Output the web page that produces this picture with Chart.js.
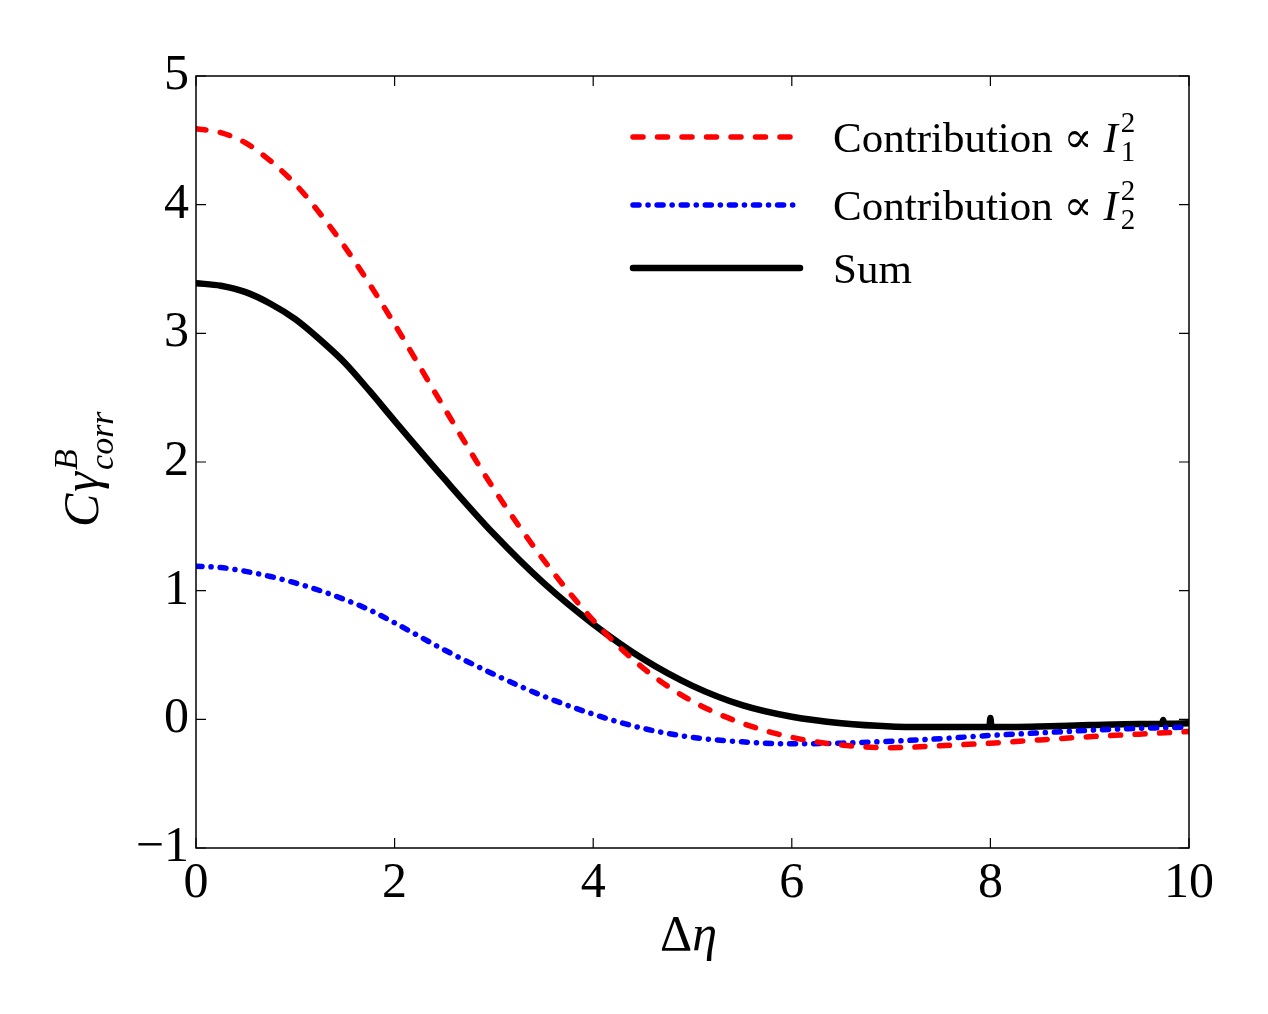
<!doctype html>
<html lang="en">
<head>
<meta charset="utf-8">
<title>C gamma corr B</title>
<script src="https://cdn.jsdelivr.net/npm/chart.js@4.4.0/dist/chart.umd.min.js"></script>
<style>
  html, body { margin: 0; padding: 0; background: #fff; }
  #wrap { width: 1268px; height: 1014px; }
</style>
</head>
<body>
<div id="wrap"><canvas id="chart" width="1268" height="1014"></canvas></div>
<script>
// values
var eta = [0, 0.25, 0.5, 0.75, 1, 1.25, 1.5, 1.75, 2, 2.5, 3, 3.5, 4, 4.5, 5, 5.5, 6, 6.5, 7, 7.5, 8, 8.5, 9, 9.5, 10];
var contribI1 = [4.59, 4.56, 4.48, 4.34, 4.16, 3.93, 3.67, 3.38, 3.07, 2.42, 1.79, 1.24, 0.77, 0.40, 0.14, -0.03, -0.14, -0.20, -0.22, -0.205, -0.185, -0.16, -0.135, -0.115, -0.095];
var contribI2 = [1.19, 1.18, 1.15, 1.11, 1.06, 1.00, 0.93, 0.85, 0.75, 0.54, 0.35, 0.18, 0.04, -0.07, -0.14, -0.175, -0.19, -0.185, -0.17, -0.15, -0.125, -0.105, -0.085, -0.07, -0.06];
// the sum has two small spikes (near 8 and 9.74)
var sumEta = [0, 0.25, 0.5, 0.75, 1, 1.25, 1.5, 1.75, 2, 2.5, 3, 3.5, 4, 4.5, 5, 5.5, 6, 6.5, 7, 7.5, 7.99, 8, 8.01, 8.5, 9, 9.5, 9.73, 9.74, 9.75, 10];
var sumVals = [3.39, 3.37, 3.32, 3.23, 3.11, 2.95, 2.77, 2.55, 2.32, 1.87, 1.44, 1.06, 0.74, 0.47, 0.26, 0.11, 0.02, -0.03, -0.055, -0.06, -0.06, 0.01, -0.06, -0.055, -0.045, -0.037, -0.034, -0.005, -0.034, -0.03];

var legendMain = ['Contribution \u221d ', 'Contribution \u221d ', 'Sum'];
var legendVar = ['I', 'I', ''];
var legendSub = ['1', '2', ''];
var legendSup = ['2', '2', ''];

var FONT = '"Liberation Serif", "DejaVu Serif", serif';

function pts(xs, ys) {
    return xs.map(function (x, i) { return { x: x, y: ys[i] }; });
}

// writes pieces of text one after another; keep:true means don't advance
function runText(ctx, x, y, pieces) {
    pieces.forEach(function (p) {
        ctx.font = p.font;
        ctx.fillText(p.t, x, y + (p.dy || 0));
        if (!p.keep) x += ctx.measureText(p.t).width + (p.gap || 0);
    });
    return x;
}

var decor = {
    id: 'decor',
    afterDraw: function (chart) {
        var ctx = chart.ctx, a = chart.chartArea;
        var xs = chart.scales.x, ys = chart.scales.y;
        var tl = 10;
        ctx.save();
        ctx.strokeStyle = '#000';
        ctx.lineWidth = 1.5;
        ctx.strokeRect(a.left, a.top, a.right - a.left, a.bottom - a.top);
        ctx.lineWidth = 1.2;
        ctx.beginPath();
        xs.ticks.forEach(function (t) {
            var px = xs.getPixelForValue(t.value);
            ctx.moveTo(px, a.bottom); ctx.lineTo(px, a.bottom - tl);
            ctx.moveTo(px, a.top); ctx.lineTo(px, a.top + tl);
        });
        ys.ticks.forEach(function (t) {
            var py = ys.getPixelForValue(t.value);
            ctx.moveTo(a.left, py); ctx.lineTo(a.left + tl, py);
            ctx.moveTo(a.right, py); ctx.lineTo(a.right - tl, py);
        });
        ctx.stroke();

        ctx.fillStyle = '#000';
        ctx.textBaseline = 'alphabetic';
        ctx.textAlign = 'left';

        // x title
        runText(ctx, 660, 950, [
            { t: '\u0394', font: '50px ' + FONT },
            { t: '\u03b7', font: 'italic 50px ' + FONT }
        ]);

        // y title, rotated
        ctx.save();
        ctx.translate(98, 527);
        ctx.rotate(-Math.PI / 2);
        runText(ctx, 0, 0, [
            { t: 'C', font: 'italic 50px ' + FONT, gap: 2 },
            { t: '\u03b3', font: 'italic 50px ' + FONT, gap: 2 },
            { t: 'B', font: 'italic 34px ' + FONT, dy: -21, keep: true },
            { t: 'corr', font: 'italic 34px ' + FONT, dy: 15 }
        ]);
        ctx.restore();

        // legend
        var rows = [137, 205, 268];
        chart.data.datasets.forEach(function (ds, i) {
            var y = rows[i];
            ctx.save();
            ctx.strokeStyle = ds.borderColor;
            ctx.lineWidth = ds.borderWidth;
            ctx.lineCap = ds.borderCapStyle || 'butt';
            ctx.setLineDash(ds.borderDash || []);
            ctx.beginPath();
            ctx.moveTo(633, y);
            ctx.lineTo(800, y);
            ctx.stroke();
            ctx.restore();
            var pieces = [{ t: legendMain[i], font: '43px ' + FONT }];
            if (legendVar[i]) {
                pieces.push({ t: legendVar[i], font: 'italic 43px ' + FONT, gap: 3 });
                pieces.push({ t: legendSup[i], font: '29px ' + FONT, dy: -20, keep: true });
                pieces.push({ t: legendSub[i], font: '29px ' + FONT, dy: 9 });
            }
            runText(ctx, 833, y + 15, pieces);
        });
        ctx.restore();
    }
};

new Chart(document.getElementById('chart').getContext('2d'), {
    type: 'line',
    data: {
        datasets: [{
            label: 'Contribution \u221d I\u2081\u00b2',
            data: pts(eta, contribI1),
            borderColor: '#ff0000',
            borderWidth: 5.5,
            borderDash: [10, 14.5],
            borderCapStyle: 'round',
            pointRadius: 0,
            fill: false,
            cubicInterpolationMode: 'monotone'
        }, {
            label: 'Contribution \u221d I\u2082\u00b2',
            data: pts(eta, contribI2),
            borderColor: '#0000ff',
            borderWidth: 5.5,
            borderDash: [6, 9, 0.1, 9],
            borderCapStyle: 'round',
            pointRadius: 0,
            fill: false,
            cubicInterpolationMode: 'monotone'
        }, {
            label: 'Sum',
            data: pts(sumEta, sumVals),
            borderColor: '#000000',
            borderWidth: 6.5,
            borderCapStyle: 'round',
            pointRadius: 0,
            fill: false,
            cubicInterpolationMode: 'monotone'
        }]
    },
    options: {
        responsive: false,
        animation: false,
        devicePixelRatio: 1,
        layout: { padding: { left: 0, top: 76, right: 79, bottom: 0 } },
        plugins: {
            legend: { display: false },
            tooltip: { enabled: false }
        },
        scales: {
            x: {
                type: 'linear',
                min: 0,
                max: 10,
                grid: { display: false, drawTicks: false },
                border: { display: false },
                ticks: {
                    stepSize: 2,
                    padding: 6,
                    color: '#000',
                    font: { family: FONT, size: 50 },
                    maxRotation: 0
                },
                afterFit: function (s) { s.height = 166; }
            },
            y: {
                min: -1,
                max: 5,
                grid: { display: false, drawTicks: false },
                border: { display: false },
                ticks: {
                    stepSize: 1,
                    padding: 7,
                    color: '#000',
                    font: { family: FONT, size: 50 },
                    callback: function (v) { return v < 0 ? '\u2212' + Math.abs(v) : String(v); }
                },
                afterFit: function (s) { s.width = 196; }
            }
        }
    },
    plugins: [decor]
});
</script>
</body>
</html>
